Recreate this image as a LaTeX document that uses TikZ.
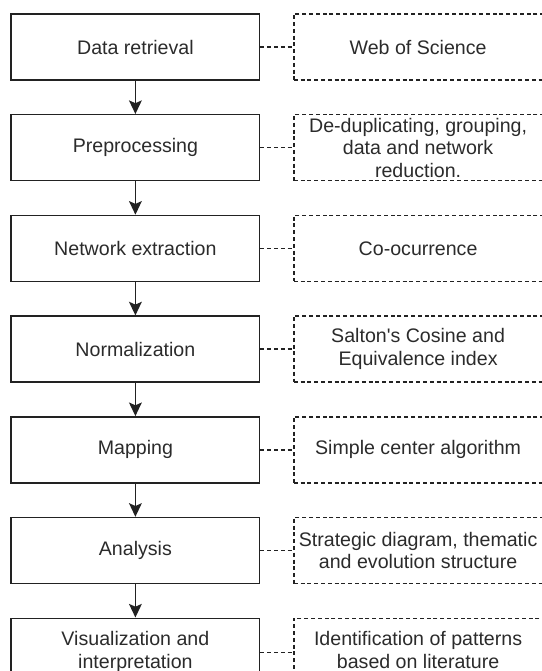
\documentclass[tikz,border=0pt]{standalone}
\usepackage{fontspec}
\setmainfont{Liberation Sans}
\usetikzlibrary{arrows.meta,positioning}
\definecolor{flowInk}{HTML}{222222}
\definecolor{flowText}{HTML}{2b2b2b}
\tikzset{
  >={Stealth[length=6.8pt,width=6.4pt,inset=1.4pt]},
  stage/.style={draw=flowInk, line width=0.7pt, fill=white, align=center,
              minimum width=124.3pt, minimum height=33pt, inner sep=0pt,
              text=flowText, font=\fontsize{9.8}{11.6}\selectfont},
  note/.style={draw=flowInk, line width=0.7pt, dash pattern=on 2pt off 1.4pt,
              align=center, minimum width=124.3pt, minimum height=33pt,
              inner xsep=1pt, inner ysep=0pt,
              text=flowText, font=\fontsize{9.8}{11.3}\selectfont},
  flow/.style={->, draw=flowInk, line width=0.75pt},
  link/.style={draw=flowInk, line width=0.7pt, dash pattern=on 2pt off 1.4pt},
}

\begin{document}
\begin{tikzpicture}[x=0.5pt,y=0.5pt,node distance=16.65pt and 16.35pt]
    \useasboundingbox (0,0) rectangle (542,-671);
    \clip (0,0) rectangle (542,-671);
    % method steps
    \node[stage,anchor=north west] (retr) at (10.4,-13.3) {Data retrieval};
    \node[stage,below=of retr] (prep) {Preprocessing};
    \node[stage,below=of prep] (extr) {Network extraction};
    \node[stage,below=of extr] (norm) {Normalization};
    \node[stage,below=of norm] (mapp) {Mapping};
    \node[stage,below=of mapp] (anal) {Analysis};
    \node[stage,below=of anal,minimum height=34pt] (visu) {Visualization and\\interpretation};
    \draw[flow](retr)--(prep);\draw[flow](prep)--(extr);\draw[flow](extr)--(norm);
    \draw[flow](norm)--(mapp);\draw[flow](mapp)--(anal);\draw[flow](anal)--(visu);
    % what each step uses
    \node[note,right=of retr] (wos) {Web of Science};
    \node[note,right=of prep] (dedu) {De-duplicating, grouping,\\data and network\\reduction.};
    \node[note,right=of extr] (cooc) {Co-ocurrence};
    \node[note,right=of norm] (salt) {Salton\textquotesingle s Cosine and\\Equivalence index};
    \node[note,right=of mapp] (simp) {Simple center algorithm};
    \node[note,right=of anal] (strat) {Strategic diagram, thematic\\and evolution structure};
    \node[note,right=of visu,minimum height=34pt] (iden) {Identification of patterns\\based on literature\vphantom{p}};
    \draw[link](retr)--(wos);\draw[link](prep)--(dedu);\draw[link](extr)--(cooc);
    \draw[link](norm)--(salt);\draw[link](mapp)--(simp);\draw[link](anal)--(strat);
    \draw[link](visu)--(iden);
  \end{tikzpicture}
\end{document}
